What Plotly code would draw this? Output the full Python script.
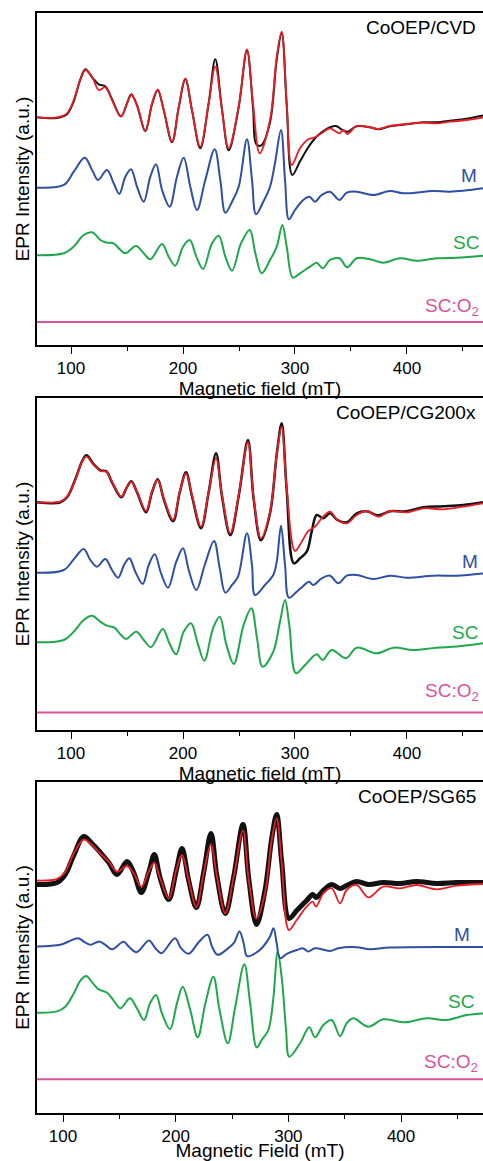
import plotly.graph_objects as go
from plotly.subplots import make_subplots

# ---------------- Panel 1: CoOEP/CVD ----------------
p1_exp_B = [69.6, 87.5, 96.4, 102.4, 108.3, 112.8, 118.8, 124.7, 130.6, 136.6, 144.6, 150, 153.8, 158.9, 166.3, 172.3,
            177.4, 182.8, 190.2, 196.2, 202.1, 208, 215.4, 222.9, 228.8, 234.8, 240.8, 249.7, 257.1, 262.5, 265.5, 270,
            277.7, 283.7, 288.1, 292.6, 297.6, 304.5, 311.9, 317.9, 323.8, 331.3, 336.6, 341.4, 346.7, 355.1, 367, 374.4,
            384.8, 399.7, 414.6, 426.5, 438.4, 453.3, 467.9]
p1_exp_I = [0, -0.7, 3, 16, 38, 48, 40, 33, 31, 18, 1, 14, 23, 12, -14, 13,
            27, 7, -25, 10, 38, 7, -31, 14, 58, 8, -33, 10, 67, 10, -27, -28,
            -5, 58, 84, 12, -57.7, -44, -30, -21, -15, -10, -8.7, -12, -14.4, -9, -10, -12,
            -9, -7, -5, -5, -3.5, -1.5, 1.7]
p1_fit_B = [69.6, 87.5, 96.4, 102.4, 108.3, 112.8, 118.8, 124.7, 130.6, 136.6, 144.6, 150, 153.8, 158.9, 166.3, 172.3,
            177.4, 182.8, 190.2, 196.2, 202.1, 208, 215.4, 222.9, 228.8, 234.8, 240.8, 249.7, 257.1, 262.5, 268.5, 277.7,
            283.7, 288.1, 292.6, 297.1, 304.5, 311.9, 317.9, 323.8, 331.3, 339.6, 343.1, 346.7, 355.1, 367, 374.4, 384.8,
            399.7, 414.6, 426.5, 438.4, 453.3, 467.9]
p1_fit_I = [0, 0, 4, 17.3, 37.3, 47.3, 40.6, 27.3, 30, 17.3, 0.6, 14, 22.3, 12.3, -13.4, 14,
            28, 7.3, -24.4, 10.6, 39, 7.3, -29.4, 14, 50.6, 7.3, -31, 10.6, 68, 14, -36, -2.7,
            60.6, 85.6, 14.3, -47.7, -31, -22, -20, -16, -11, -16, -12.7, -16.7, -8.7, -10, -11.7, -8.7,
            -6.7, -5.4, -6, -4.4, -2.7, -0.4]
p1_M_B = [69.6, 93.5, 102.4, 112.2, 118.8, 124.1, 132.1, 138.1, 143.1, 148.5, 153.6, 158.9, 164.9, 170.8, 175.9, 181.3,
          188.1, 194.6, 200.6, 206.5, 212.5, 219.9, 228.3, 233.3, 237.8, 243.8, 249.7, 257.1, 261.6, 265.2, 271.7, 277.7,
          282.1, 287.5, 291.1, 294.6, 300, 307.4, 312.8, 317.9, 323.8, 331.3, 339.6, 346.2, 355.1, 369.9, 384.8, 396.7,
          423.5, 438.4, 467.9]
p1_M_I = [0, 2.7, 16, 30, 17.7, 7.7, 17.7, 4.4, -6.3, 11, 18.4, 1, -14, 11, 23.4, -2.3,
          -19, 11, 30, 1, -22.3, 7.7, 38.4, 7.7, -25, -14, 1, 48.4, 7.7, -26.6, -14, 1,
          24.4, 57.7, 7.7, -31.6, -22.3, -12.3, -9, -14, -7.3, -4, -12.3, -5, -4, -7.3, -3.3, -5.6,
          -3.3, -4, -0.6]
p1_SC_B = [69.6, 93.5, 102.4, 111.3, 118.8, 126.2, 132.1, 138.1, 143.5, 148.5, 158, 164.9, 170.8, 181.3, 187.2, 193.1,
           200, 206, 211.9, 217.9, 225.9, 231.9, 237.8, 243.8, 251.8, 259.6, 264.6, 270.2, 277.7, 283.7, 288.7, 292.6,
           298, 304.5, 313.4, 319.4, 324.7, 331.3, 339.6, 346.7, 355.1, 367, 378.8, 393.8, 408.7, 426.5, 444.4, 467.9]
p1_SC_I = [0, 2, 8.7, 20.3, 23, 15.3, 12.6, 12, 6, 2, 9.3, 2, -4, 11.3, -1.4, -10.4,
           8.6, 15.3, -1.4, -13.7, 12, 19.6, -1.4, -15.4, 12, 25.3, 2, -18, -4.7, 8.6, 30.3, 8.6,
           -22.4, -18, -11.4, -7.4, -13, -4.7, -3, -12, -3, -4, -7.4, -3, -5.4, -3, -2.4, -0.4]
p1_offsets = {"exp": 227.7, "M": 157.3, "SC": 89.7, "SCO2": 23.0}

# ---------------- Panel 2: CoOEP/CG200x ----------------
p2_exp_B = [69.6, 90.4, 96.4, 103.8, 109.8, 113.7, 120.3, 126.2, 131.5, 136.6, 144.9, 149.4, 153.8, 158.9, 167, 172.3,
            177.4, 182.8, 191.1, 197.1, 202.7, 208, 216.1, 222.9, 229.5, 234.8, 242.2, 249.7, 258, 263.1, 269.6, 277.7,
            283.7, 288.1, 292.6, 299, 304.5, 310.5, 314.9, 319.4, 325.3, 331.3, 337.8, 346.2, 355.1, 364, 374.4, 384.8,
            399.7, 414.6, 432.4, 450.3, 467.9]
p2_exp_I = [0, 0, 5, 23, 41, 47, 38, 32, 31, 20, 5, 14, 21, 10, -10, 10,
            23, 3, -19, 10, 30, 6, -26, 10, 49, 6, -33, 6, 62.3, 3, -38, -11,
            48, 79, 12, -61, -56, -49.4, -29.4, -12.7, -16, -11, -17.7, -20, -11, -9, -13, -9,
            -9, -5, -4, -2.7, 0]
p2_fit_B = [69.6, 90.4, 96.4, 103.8, 109.8, 113.7, 120.3, 126.2, 131.5, 136.6, 144.9, 149.4, 153.8, 158.9, 167, 172.3,
            177.4, 182.8, 191.1, 197.1, 202.7, 208, 216.1, 222.9, 229.5, 234.8, 242.2, 249.7, 258, 263.1, 269.6, 277.7,
            283.7, 288.1, 292.6, 300, 306, 311.9, 317.9, 323.8, 331.3, 337.8, 346.2, 355.1, 364, 374.4, 384.8, 399.7,
            414.6, 432.4, 450.3, 467.9]
p2_fit_I = [0, 0.7, 5.6, 22.3, 40.6, 45.6, 37.3, 31.3, 30.6, 20.6, 5.6, 14, 20.6, 10.6, -8.7, 10.6,
            22.3, 4, -17.7, 10.6, 29, 7.3, -24.4, 10.6, 44, 7.3, -31, 7.3, 60, 4, -36, -9.4,
            47.3, 75.6, 14, -48.7, -39.4, -28.7, -24.4, -16, -9.4, -17.7, -21, -12.7, -8.7, -14.4, -8.7, -10,
            -6, -7, -4.4, -1]
p2_M_B = [69.6, 93.5, 102.4, 111.3, 117.2, 123.2, 130.6, 136.6, 142, 147.6, 152.1, 157.4, 164, 169.4, 174.7, 180.4,
          186.6, 194, 200, 205.1, 211.9, 219.4, 227.7, 232.8, 237.8, 243.8, 249.1, 257.1, 261.6, 264.3, 273.2, 280.6,
          283.7, 287.5, 291.1, 294.6, 301.5, 307.4, 312.5, 316.3, 323.8, 331.3, 338.7, 346.2, 355.1, 369.9, 384.8, 399.7,
          423.5, 444.4, 467.9]
p2_M_I = [0, 2.7, 13.3, 23.7, 12.7, 6, 13.7, 2.7, -5, 8.3, 14.4, 1, -11.3, 7.7, 18.4, -0.7,
          -15, 11, 24.4, 2.7, -17.3, 7.7, 31.7, 4.3, -20, -12.3, -4, 39.4, 7.7, -22.3, -12.3, -2.3,
          11, 47, 7.7, -25, -19, -13.3, -9, -12.3, -5.6, -3, -10.6, -3, -2.3, -6.3, -3, -5,
          -3, -3, -0.7]
p2_SC_B = [69.6, 93.5, 102.4, 111.3, 118.8, 126.2, 132.1, 138.7, 144, 149.1, 158.3, 164.9, 171.4, 181.9, 187.8, 193.8,
           200.6, 207.1, 213.1, 219, 226.8, 232.8, 238.7, 245.3, 254.2, 261, 266.1, 271, 280.6, 286.6, 291.1, 294.9,
           300.9, 309, 319.4, 324.7, 332.8, 345.5, 355.1, 372.9, 387.8, 405.6, 426.5, 444.4, 467.9]
p2_SC_I = [0, 2.3, 10.6, 22.3, 26.6, 20.6, 16.6, 14.6, 8, 3.3, 10.6, 2.3, -4.7, 13.3, -1, -12,
           10.6, 19, -1, -18.4, 14, 25.6, -2.3, -21.7, 17.6, 34, 4, -24.4, -9.4, 20.6, 42.3, 17.3,
           -31, -22.7, -12, -17.7, -7.7, -16, -5.4, -11, -5.4, -7.7, -5.4, -4.3, -1]
p2_offsets = {"exp": 227.7, "M": 157.3, "SC": 87.7, "SCO2": 17.5}

# ---------------- Panel 3: CoOEP/SG65 ----------------
p3_B = [76.9, 94.7, 102, 109.5, 118.4, 125.7, 133.1, 140.6, 147.9, 156.8, 162.7, 169.5, 176, 181, 186.3, 193.8,
        200.5, 205.6, 211.5, 218.3, 224.8, 231.3, 236.6, 244, 251.5, 259.7, 264.8, 271.7, 279.2, 285.2, 289.6, 294.1,
        300.5, 307.4, 316.2, 321.6, 324.5, 331, 338.4, 345.8, 351.7, 360.6, 370.9, 384.2, 399, 413.8, 431.6, 449.3, 472.7]
p3_exp_I = [-4, -2, 6, 25, 44, 37, 28, 18, 6, 19, 8, -12, 8, 26, 2, -19,
            10, 32, 0, -27, 8, 47, 4, -33, 4, 56, 2, -44, -10, 42, 66, 18,
            -38, -30, -20, -14, -17, -10, -4, -8, -5, -1, -4, -2, -3, -1, -3, -2, -2]
p3_fit_I = [0, 1.7, 8.8, 27, 41, 35.5, 27, 18.8, 8.8, 14.5, 7.2, -6.2, 8.8, 17.8, 1.8, -17.8,
            10.5, 25.5, 0.5, -26.8, 7.2, 36.2, 3.8, -32.8, 3.8, 49.8, 0.5, -38, -12.8, 40.5, 62.2, 17.2,
            -49.5, -39.5, -26.2, -21.2, -26.2, -12.8, -7.8, -22.8, -9.5, -4.5, -16.8, -6.2, -7.8, -4.5, -8.8, -5.2, -3.5]
p3_M_B = [76.9, 97.6, 105.1, 113.3, 118.4, 124, 132.2, 137.5, 143.5, 153.7, 158.3, 165.2, 176.3, 181.9, 187.4, 199.4,
          204.7, 211.4, 220.9, 228.2, 232.2, 237.1, 245.5, 251.5, 256.6, 260.3, 263.3, 272.1, 277.7, 283.7, 286.8, 289.6,
          292.6, 298.5, 307.4, 313.2, 317.7, 323.6, 336.9, 344.3, 360.6, 372.4, 390.1, 472.7]
p3_M_I = [0, 1.7, 5, 8.3, 5, 1.7, 5, 1.7, -2.7, 4.7, 0, -5.7, 6, -1.7, -6.7, 8.3,
          -1.7, -7.3, 5, 11.7, 0, -8.3, -2.7, 3.3, 15, 3.3, -9.7, -5.7, 0, 10, 18.3, 3.3,
          -11.7, -7.3, -3.5, -1.9, -5, -1.7, -4.5, -1.7, -0.7, -2.7, -1, -0.6]
p3_SC_B = [76.9, 94.7, 102, 109.5, 115.4, 120.4, 126.6, 131.7, 139.1, 145, 151, 159.4, 165.6, 171.9, 177.2, 182.5,
           187.8, 194.9, 201.1, 206.2, 212.9, 219.5, 226.3, 233.4, 238.9, 246.2, 252.7, 260.9, 266, 271.9, 276.3, 282.2,
           286.6, 290.5, 294.3, 297.9, 300.8, 310.3, 318.5, 323.6, 331, 338.4, 345.8, 351.7, 357.6, 370.9, 384.2, 403.5,
           422.8, 440.5, 458.3, 472.7]
p3_SC_I = [0, 1.3, 6, 19.3, 32, 36.7, 29.3, 23.3, 20, 12, 4.4, 14.4, 4.3, -7.3, 9.3, 17.7,
           -0.7, -16.6, 9.3, 26, 2.7, -24.6, 9.3, 36, 2.7, -30.6, 5, 48.4, 10, -34.6, -27.3, -17.3,
           14, 61, 32.7, -17, -44, -30.6, -14.6, -24.6, -12.3, -7.3, -23.3, -10.6, -5.6, -14, -6.6, -9.6,
           -5.6, -7.3, -2.3, -0.7]
p3_offsets = {"exp": 232.5, "M": 166.5, "SC": 100.3, "SCO2": 33.7}

sample_names = ["CoOEP/CVD", "CoOEP/CG200x", "CoOEP/SG65"]
x_titles = ["Magnetic field (mT)", "Magnetic field (mT)", "Magnetic Field (mT)"]
x_ranges = [[69.6, 467.9], [69.6, 467.9], [76.9, 472.7]]
y_ranges = [[0, 332], [0, 332], [0, 331]]

RED, BLACK, BLUE, GREEN, MAG = "#ec1c24", "#111111", "#2e4fa3", "#1fa84b", "#d9529f"
FONT = "Liberation Sans, Arial, sans-serif"

panels = [
    dict(expB=p1_exp_B, expI=p1_exp_I, fitB=p1_fit_B, fitI=p1_fit_I, MB=p1_M_B, MI=p1_M_I,
         SCB=p1_SC_B, SCI=p1_SC_I, off=p1_offsets, bw=2.0),
    dict(expB=p2_exp_B, expI=p2_exp_I, fitB=p2_fit_B, fitI=p2_fit_I, MB=p2_M_B, MI=p2_M_I,
         SCB=p2_SC_B, SCI=p2_SC_I, off=p2_offsets, bw=2.5),
    dict(expB=p3_B, expI=p3_exp_I, fitB=p3_B, fitI=p3_fit_I, MB=p3_M_B, MI=p3_M_I,
         SCB=p3_SC_B, SCI=p3_SC_I, off=p3_offsets, bw=5.0),
]

fig = make_subplots(rows=3, cols=1)
domains = [[0.6982, 1.0], [0.3482, 0.65], [0.0, 0.3009]]


def line(xs, ys, color, width, row, smoothing=1.0):
    fig.add_trace(go.Scatter(x=xs, y=ys, mode="lines", showlegend=False, hoverinfo="skip",
                             line=dict(color=color, width=width, shape="spline", smoothing=smoothing)),
                  row=row, col=1)


label_pos = [  # y (in axis units) of the M / SC / SC:O2 labels
    [169.2, 102.0, 37.5],
    [168.3, 97.5, 37.5],
    [179.0, 112.0, 50.0],
]
label_xshift = [[-4, -2, -2], [-3, -3, -2], [-11, -7, -3]]

for i, p in enumerate(panels):
    r = i + 1
    off = p["off"]
    xr = x_ranges[i]
    line(xr, [off["SCO2"], off["SCO2"]], MAG, 2, r)
    line(p["SCB"], [v + off["SC"] for v in p["SCI"]], GREEN, 2, r)
    line(p["MB"], [v + off["M"] for v in p["MI"]], BLUE, 2, r)
    line(p["expB"], [v + off["exp"] for v in p["expI"]], BLACK, p["bw"], r)
    line(p["fitB"], [v + off["exp"] for v in p["fitI"]], RED, 1.8, r)

    xa = "xaxis" if r == 1 else f"xaxis{r}"
    ya = "yaxis" if r == 1 else f"yaxis{r}"
    fig.layout[xa].update(
        domain=[0, 1], range=xr, showgrid=False, zeroline=False,
        showline=True, linecolor="black", linewidth=1.6, mirror=True,
        ticks="outside", ticklen=7, tickwidth=1.4, tickcolor="black",
        tick0=0, dtick=100, tickfont=dict(family=FONT, size=17, color="black"),
        minor=dict(ticks="outside", ticklen=4, tickwidth=1.2, tickcolor="black", dtick=50, tick0=0),
        title=dict(text=x_titles[i], font=dict(family=FONT, size=19, color="black"), standoff=0),
    )
    fig.layout[ya].update(
        domain=domains[i], range=y_ranges[i], showgrid=False, zeroline=False,
        showline=True, linecolor="black", linewidth=1.6, mirror=False,
        showticklabels=False, ticks="",
        title=dict(text="EPR Intensity (a.u.)", font=dict(family=FONT, size=19, color="black"), standoff=1),
    )
    xref = "x" if r == 1 else f"x{r}"
    yref = "y" if r == 1 else f"y{r}"
    fig.add_annotation(text=sample_names[i], xref=f"{xref} domain", yref=f"{yref} domain",
                       x=1, y=0.955, xanchor="right", yanchor="middle", xshift=-5, showarrow=False,
                       font=dict(family=FONT, size=19, color="black"))
    ly = label_pos[i]
    for k, (txt, col) in enumerate([("M", BLUE), ("SC", GREEN), ("SC:O<sub>2</sub>", MAG)]):
        fig.add_annotation(text=txt, xref=f"{xref} domain", yref=yref, x=1, y=ly[k],
                           xanchor="right", yanchor="middle", xshift=label_xshift[i][k], showarrow=False,
                           font=dict(family=FONT, size=19, color=col))

fig.update_layout(width=483, height=1161, margin=dict(l=37, r=0, t=13, b=48),
                  paper_bgcolor="white", plot_bgcolor="white", font=dict(family=FONT))

# remove the default 8 px page margin (and scrollbars) so the figure fills the window exactly
fig.write_html("out.html", config={"displayModeBar": False},
               post_script="document.body.style.margin='0px';document.body.style.overflow='hidden';")
